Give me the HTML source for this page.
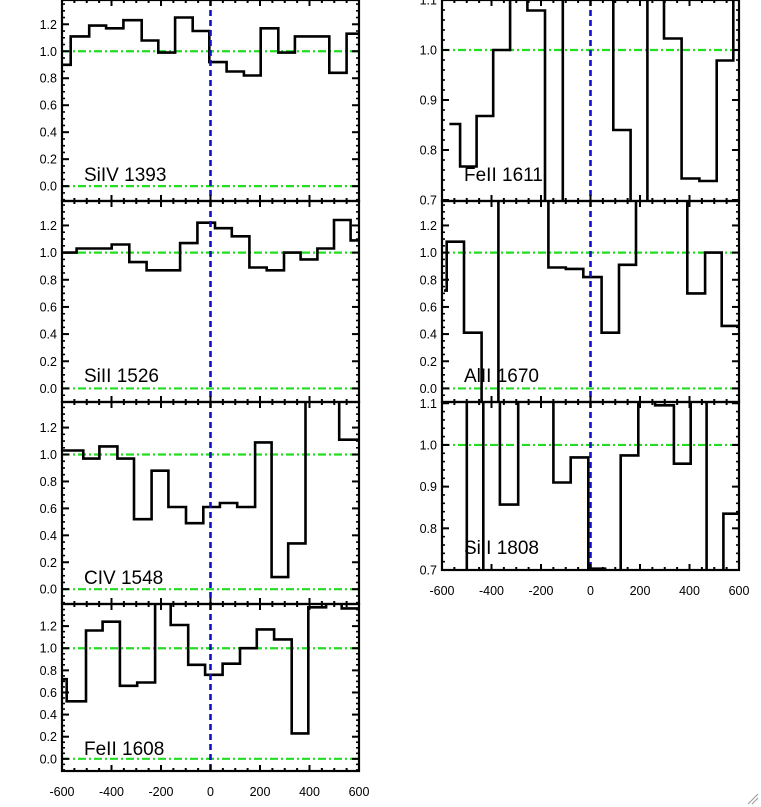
<!DOCTYPE html>
<html><head><meta charset="utf-8"><style>
html,body{margin:0;padding:0;background:#fff;}
svg{display:block;font-family:"Liberation Sans",sans-serif;}
</style></head><body>
<svg id="c" width="761" height="807" viewBox="0 0 761 807" xmlns="http://www.w3.org/2000/svg"></svg>
<script>
// ---- data (velocity km/s bin edges and normalized flux values) ----
const siivEdges = [-600,-565,-490,-422,-352,-278,-211,-143,-72,-5,65,135,203,274,341,410,480,550,600];
const siivVals  = [0.90,1.11,1.19,1.17,1.23,1.08,0.99,1.25,1.15,0.92,0.85,0.82,1.17,0.99,1.11,1.11,0.84,1.13];
const sii1526Edges = [-595,-541,-399,-328,-258,-123,-53,18,86,157,227,297,364,432,499,566,600];
const sii1526Vals  = [1.00,1.03,1.06,0.93,0.87,1.07,1.22,1.18,1.12,0.89,0.87,1.00,0.95,1.03,1.24,1.09];
const civEdges = [-600,-514,-449,-376,-309,-238,-170,-99,-29,38,108,180,247,314,384,520,600];
const civVals  = [1.03,0.97,1.06,0.97,0.52,0.88,0.61,0.49,0.61,0.64,0.61,1.09,0.09,0.34,1.60,1.11];
const feii1608Edges = [-600,-581,-503,-436,-366,-296,-224,-161,-90,-22,49,119,187,257,328,395,467,530,600];
const feii1608Vals  = [0.72,0.52,1.16,1.24,0.66,0.69,1.60,1.21,0.85,0.76,0.86,1.00,1.17,1.08,0.23,1.37,1.60,1.36];
const feii1611Edges = [-570,-527,-460,-393,-325,-255,-184,-112,92,162,230,297,368,440,510,577,600];
const feii1611Vals  = [0.852,0.767,0.868,1.00,1.20,1.079,0.60,1.20,0.84,0.60,1.20,1.023,0.743,0.738,0.979,1.20];
const alii1670Edges = [-592,-581,-511,-440,-372,-170,-100,-29,45,115,184,391,463,530,601];
const alii1670Vals  = [0.72,1.08,0.41,-0.30,1.60,0.89,0.88,0.82,0.41,0.91,1.60,0.70,1.00,0.46];
const sii1808Edges = [-595,-500,-433,-366,-292,-150,-80,-9,59,122,193,261,337,405,469,537,601];
const sii1808Vals  = [1.20,0.60,1.20,0.857,1.20,0.91,0.97,0.703,0.60,0.975,1.20,1.095,0.955,1.20,0.60,0.835];
const xTicks = [-600,-400,-200,0,200,400,600];
const yTicksWide = [0.0,0.2,0.4,0.6,0.8,1.0,1.2];
const yTicksNarrow = [0.7,0.8,0.9,1.0,1.1];

const panels = [
 {name:'siiv-1393',label:'SiIV 1393',x0:62,x1:359,y0:0,y1:201,ymin:-0.11,ymax:1.38,edges:siivEdges,vals:siivVals,yt:yTicksWide,minor:0.05},
 {name:'siii-1526',label:'SiII 1526',x0:62,x1:359,y0:201,y1:402,ymin:-0.10,ymax:1.38,edges:sii1526Edges,vals:sii1526Vals,yt:yTicksWide,minor:0.05},
 {name:'civ-1548',label:'CIV 1548',x0:62,x1:359,y0:402,y1:604,ymin:-0.11,ymax:1.39,edges:civEdges,vals:civVals,yt:yTicksWide,minor:0.05},
 {name:'feii-1608',label:'FeII 1608',x0:62,x1:359,y0:604,y1:771,ymin:-0.11,ymax:1.40,edges:feii1608Edges,vals:feii1608Vals,yt:yTicksWide,minor:0.05,xlab:true},
 {name:'feii-1611',label:'FeII 1611',x0:442,x1:739,y0:0,y1:201,ymin:0.698,ymax:1.10,edges:feii1611Edges,vals:feii1611Vals,yt:yTicksNarrow,minor:0.02},
 {name:'alii-1670',label:'AlII 1670',x0:442,x1:739,y0:201,y1:402,ymin:-0.10,ymax:1.38,edges:alii1670Edges,vals:alii1670Vals,yt:yTicksWide,minor:0.05},
 {name:'siii-1808',label:'SiII 1808',x0:442,x1:739,y0:402,y1:570,ymin:0.70,ymax:1.103,edges:sii1808Edges,vals:sii1808Vals,yt:yTicksNarrow,minor:0.02,xlab:true}
];
const NS='http://www.w3.org/2000/svg';
const svg=document.getElementById('c');
function mk(tag,attrs,parent){const e=document.createElementNS(NS,tag);for(const k in attrs)e.setAttribute(k,attrs[k]);(parent||svg).appendChild(e);return e;}
let cid=0;
panels.forEach(p=>{
  const g=mk('g',{});
  
  
  const xs=v=>p.x0+(v+600)/1200*(p.x1-p.x0);
  const ys=f=>p.y1-(f-p.ymin)/(p.ymax-p.ymin)*(p.y1-p.y0);
  const id='clip'+(cid++);
  const cp=mk('clipPath',{id:id},g);
  mk('rect',{x:p.x0,y:p.y0,width:p.x1-p.x0,height:p.y1-p.y0},cp);
  // reference lines
  [0,1].forEach(r=>{
    if(r<p.ymin||r>p.ymax) return;
    const l=mk('line',{x1:p.x0,x2:p.x1,y1:ys(r),y2:ys(r),stroke:'#22dd22','stroke-width':2.2,'stroke-dasharray':'8,3,2,3'},g);
    
    
  });
  // histogram
  let d='';
  for(let i=0;i<p.vals.length;i++){
    const xa=xs(p.edges[i]),xb=xs(p.edges[i+1]),y=ys(p.vals[i]);
    d+=(i===0?'M':'L')+xa.toFixed(1)+','+y.toFixed(1)+' L'+xb.toFixed(1)+','+y.toFixed(1)+' ';
  }
  const path=mk('path',{d:d,fill:'none',stroke:'#000','stroke-width':2.6,'clip-path':'url(#'+id+')'},g);
  
  
  // zero velocity
  const zl=mk('line',{x1:xs(0),x2:xs(0),y1:p.y0,y2:p.y1,stroke:'#1010cc','stroke-width':2.6,'stroke-dasharray':'6,4'},g);
  
  
  // frame
  const fr=mk('rect',{x:p.x0,y:p.y0,width:p.x1-p.x0,height:p.y1-p.y0,fill:'none',stroke:'#000','stroke-width':2.2},g);
  
  
  // x ticks
  for(let v=-600;v<=600;v+=50){
    const major=(v%200===0);const L=major?6:3;const x=xs(v);
    mk('line',{x1:x,x2:x,y1:p.y1,y2:p.y1-L,stroke:'#000','stroke-width':2},g);
    mk('line',{x1:x,x2:x,y1:p.y0,y2:p.y0+L,stroke:'#000','stroke-width':2},g);
  }
  // y minor ticks
  for(let f=Math.ceil(p.ymin/p.minor)*p.minor;f<=p.ymax;f+=p.minor){
    const y=ys(f);
    mk('line',{x1:p.x0,x2:p.x0+3,y1:y,y2:y,stroke:'#000','stroke-width':1.6},g);
    mk('line',{x1:p.x1,x2:p.x1-3,y1:y,y2:y,stroke:'#000','stroke-width':1.6},g);
  }
  p.yt.forEach(t=>{
    const y=ys(t);
    mk('line',{x1:p.x0,x2:p.x0+7,y1:y,y2:y,stroke:'#000','stroke-width':2},g);
    mk('line',{x1:p.x1,x2:p.x1-7,y1:y,y2:y,stroke:'#000','stroke-width':2},g);
    const tx=mk('text',{x:p.x0-5,y:y+4.5,'text-anchor':'end','font-size':12.5,fill:'#000'},g);
    tx.textContent=t.toFixed(1);
    
    
  });
  const lb=mk('text',{x:p.x0+22,y:p.y1-(p.y1-p.y0>190?20:16),'font-size':19,fill:'#000'},g);
  lb.textContent=p.label;
  
  
  if(p.xlab){
    xTicks.forEach(t=>{
      const tx=mk('text',{x:xs(t),y:p.y1+25,'text-anchor':'middle','font-size':12.5,fill:'#000'},g);
      tx.textContent=String(t);
      
      
    });
  }
});
// resize grip
const rg=mk('g',{});


mk('line',{x1:748,y1:804,x2:758,y2:794,stroke:'#999','stroke-width':1},rg);
mk('line',{x1:752,y1:804,x2:758,y2:798,stroke:'#999','stroke-width':1},rg);
</script>
</body></html>
